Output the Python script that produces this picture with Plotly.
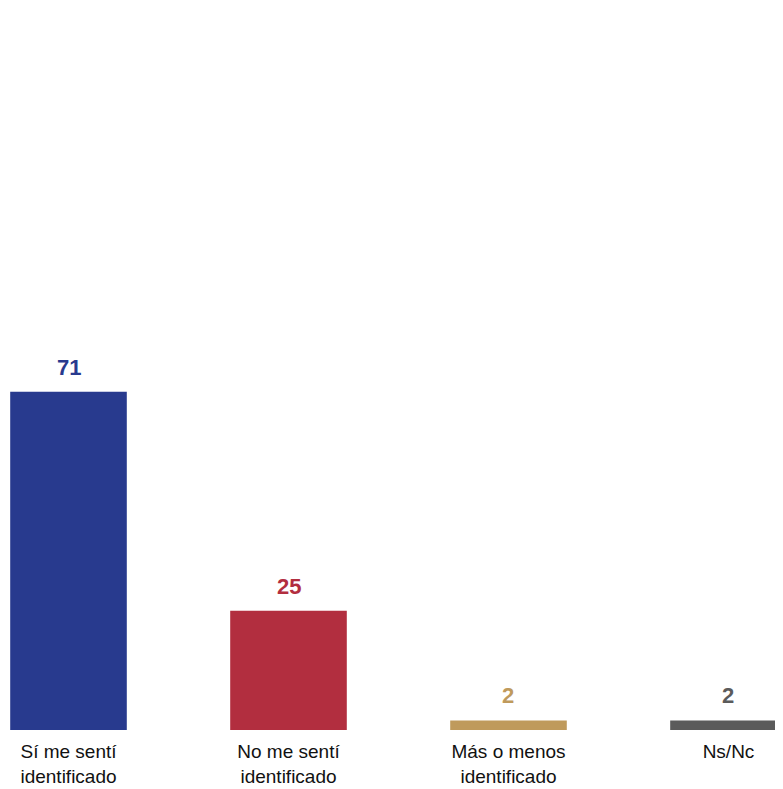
import plotly.graph_objects as go

categories = ["Sí me sentí<br>identificado", "No me sentí<br>identificado",
              "Más o menos<br>identificado", "Ns/Nc"]
values = [71, 25, 2, 2]
colors = ["#283A8E", "#B22E3F", "#BF9A5C", "#5B5B5B"]

fig = go.Figure()
fig.add_trace(go.Bar(
    x=categories, y=values, marker=dict(color=colors, line=dict(width=0)),
    width=0.53, hoverinfo="skip"
))

for c, v, col in zip(categories, values, colors):
    fig.add_annotation(x=c, y=v, text=f"<b>{v}</b>", showarrow=False,
                       yanchor="bottom", yshift=10,
                       font=dict(family="Liberation Sans, Arial", size=22, color=col))

fig.update_layout(
    width=767, height=781,
    margin=dict(l=0, r=0, t=30, b=59, autoexpand=False),
    paper_bgcolor="white", plot_bgcolor="white",
    showlegend=False,
    xaxis=dict(range=[-0.275, 3.2114], showgrid=False, zeroline=False,
               showline=False, ticks="", fixedrange=True, ticklabelstandoff=8,
               automargin=False,
               tickfont=dict(family="Liberation Sans, Arial", size=19, color="#111111")),
    yaxis=dict(range=[0, 145.2], visible=False, fixedrange=True, automargin=False),
)

fig.write_html("out.html")
